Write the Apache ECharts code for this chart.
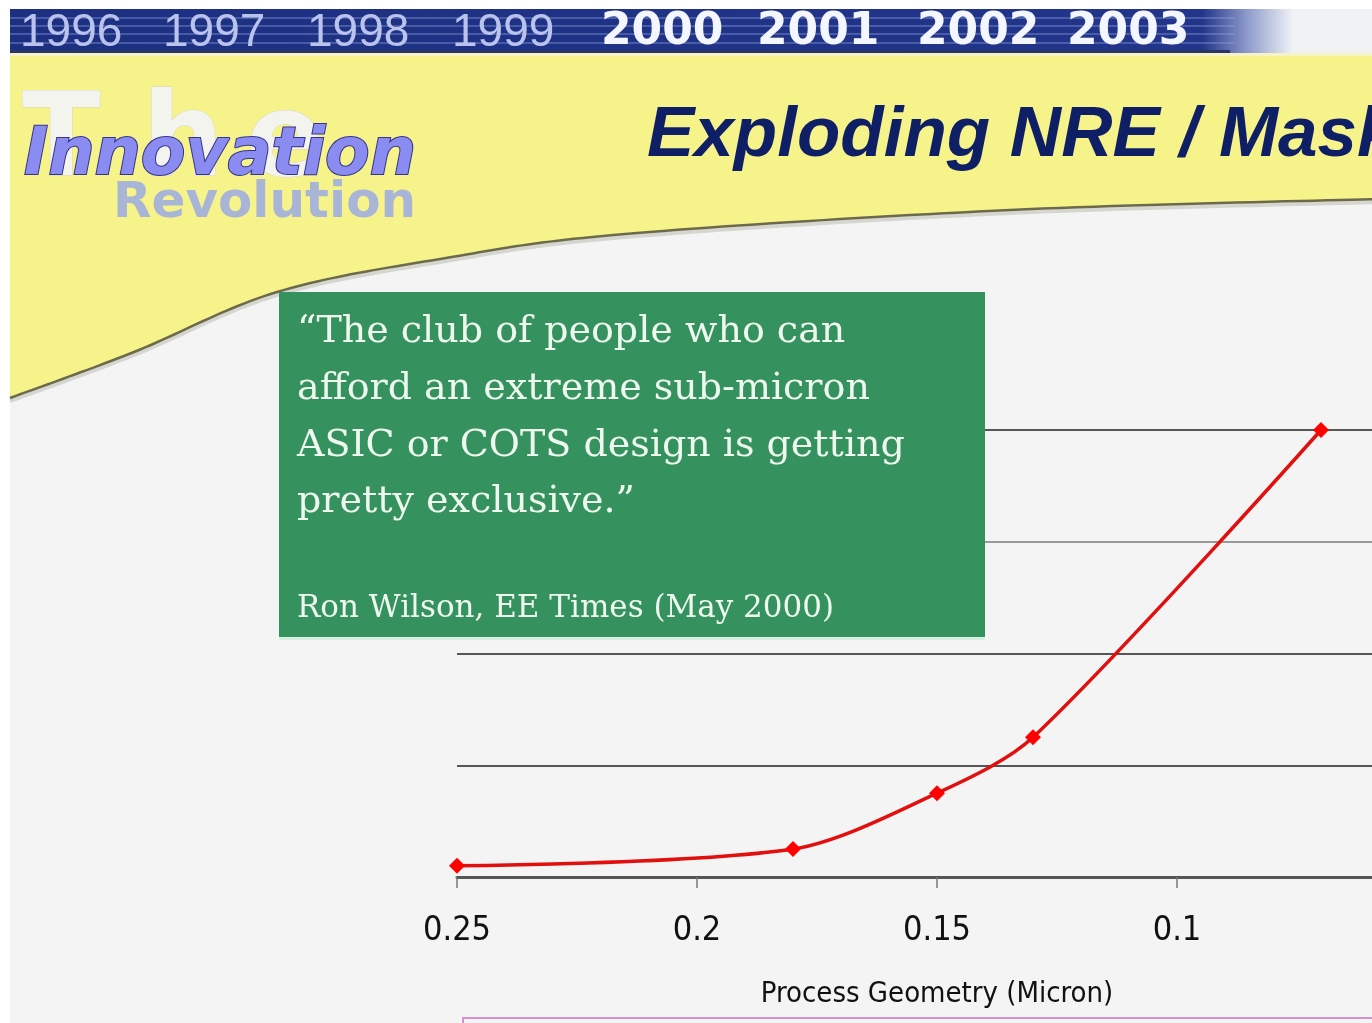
<!DOCTYPE html>
<html>
<head>
<meta charset="utf-8">
<title>Exploding NRE / Mask Costs</title>
<script src="https://cdn.jsdelivr.net/npm/echarts@6/dist/echarts.min.js"></script>
<style>
  html, body { margin: 0; padding: 0; background: #ffffff; }
  #chart { width: 1372px; height: 1023px; }
</style>
</head>
<body>
<div id="chart"></div>
<script>
// Process geometry (micron) and the mask / NRE cost at each node ($M)
const geometry = [0.25, 0.18, 0.15, 0.13, 0.07];
const maskCost = [0.1, 0.25, 0.75, 1.25, 4.0];

// Year strip across the top of the slide
const pastYears = ['1996', '1997', '1998', '1999'];
const currentYears = ['2000', '2001', '2002', '2003'];

const titleText = 'Exploding NRE / Mask Costs';
const quoteLines = [
  '\u201CThe club of people who can',
  'afford an extreme sub-micron',
  'ASIC or COTS design is getting',
  'pretty exclusive.\u201D'
];
const quoteSource = 'Ron Wilson, EE Times (May 2000)';
const xAxisTitle = 'Process Geometry (Micron)';

// ---- slide decoration helpers ----
function catmullRom(pts, steps) {
  const out = [];
  for (let i = 0; i < pts.length - 1; i++) {
    const p0 = pts[Math.max(i - 1, 0)], p1 = pts[i], p2 = pts[i + 1], p3 = pts[Math.min(i + 2, pts.length - 1)];
    for (let s = 0; s < steps; s++) {
      const t = s / steps, t2 = t * t, t3 = t2 * t;
      const f = (a, b, c, d) => 0.5 * ((2 * b) + (-a + c) * t + (2 * a - 5 * b + 4 * c - d) * t2 + (-a + 3 * b - 3 * c + d) * t3);
      out.push([f(p0[0], p1[0], p2[0], p3[0]), f(p0[1], p1[1], p2[1], p3[1])]);
    }
  }
  out.push(pts[pts.length - 1]);
  return out;
}

// sweep of the yellow header band
const sweep = catmullRom([[10, 398], [134, 352], [277, 292], [446, 258], [625, 234], [1010, 210], [1380, 199]], 24);
const yellowPoly = [[10, 56], [1380, 56]].concat(sweep.slice().reverse());
const sweepShadow = sweep.map(p => [p[0], p[1] + 3]);

const graphics = [];
// slide body
graphics.push({ type: 'rect', z: -30, shape: { x: 10, y: 9, width: 1362, height: 1014 }, style: { fill: '#f4f4f4' } });
// year banner
graphics.push({ type: 'rect', z: -20, shape: { x: 1290, y: 9, width: 82, height: 44 }, style: { fill: '#f1f2f4' } });
graphics.push({
  type: 'rect', z: -20, shape: { x: 10, y: 9, width: 1282, height: 44 },
  style: {
    fill: new echarts.graphic.LinearGradient(0, 0, 1, 0, [
      { offset: 0, color: '#1d2f80' },
      { offset: 0.93, color: '#22358a' },
      { offset: 0.965, color: '#8e9acb' },
      { offset: 1, color: '#eef0f6' }
    ])
  }
});
[17, 25, 33, 42].forEach(y => {
  graphics.push({ type: 'rect', z: -19, shape: { x: 10, y: y, width: 1225, height: 2 }, style: { fill: 'rgba(140,160,220,0.38)' } });
});
graphics.push({ type: 'rect', z: -19, shape: { x: 10, y: 50, width: 1220, height: 3 }, style: { fill: '#2a3566' } });
// yellow header band
graphics.push({ type: 'rect', z: -18, shape: { x: 10, y: 53, width: 1362, height: 6 }, style: { fill: '#f6f4c6' } });
graphics.push({ type: 'polygon', z: -17, shape: { points: yellowPoly }, style: { fill: '#f7f38b' } });
graphics.push({ type: 'polyline', z: -16, shape: { points: sweepShadow }, style: { stroke: '#d6d6d0', lineWidth: 4, fill: null } });
graphics.push({ type: 'polyline', z: -15, shape: { points: sweep }, style: { stroke: '#6c6a4a', lineWidth: 2.5, fill: null } });

// year labels
const pastX = [20, 163, 307, 452];
pastYears.forEach((t, i) => {
  graphics.push({ type: 'text', z: -10, x: pastX[i], y: 33, style: { text: t, font: '46px "Liberation Sans", Arial, sans-serif', fill: '#b9c3ee', verticalAlign: 'middle' } });
});
const currentX = [601, 757, 917, 1067];
currentYears.forEach((t, i) => {
  graphics.push({ type: 'text', z: -10, x: currentX[i], y: 33, style: { text: t, font: 'bold 44px "DejaVu Sans", sans-serif', fill: '#f4f6ff', verticalAlign: 'middle' } });
});

// logo: widely spaced "The" behind the word marks
const logoThe = [['T', 22], ['h', 142], ['e', 246]];
logoThe.forEach(([ch, x]) => {
  graphics.push({ type: 'text', z: -9, x: x, y: 145, style: { text: ch, font: 'bold 115px "DejaVu Sans", sans-serif', fill: '#f4f4ee', stroke: '#d8d7c4', lineWidth: 1, verticalAlign: 'middle' } });
});
graphics.push({ type: 'text', z: -8, x: 113, y: 204, style: { text: 'Revolution', font: 'bold 50px "DejaVu Sans", sans-serif', fill: '#a9b5d6', verticalAlign: 'middle' } });
graphics.push({ type: 'text', z: -7, x: 24, y: 157, style: { text: 'Innovation', font: 'italic bold 65px "DejaVu Sans", sans-serif', fill: '#8a8cf2', stroke: '#34348a', lineWidth: 2, verticalAlign: 'middle' } });

// slide title
graphics.push({ type: 'text', z: -6, x: 647, y: 136, style: { text: titleText, font: 'italic bold 71px "Liberation Sans", Arial, sans-serif', fill: '#0e1f66', verticalAlign: 'middle' } });

// quote box
graphics.push({ type: 'rect', z: 50, shape: { x: 279, y: 637, width: 706, height: 3 }, style: { fill: '#d6efe0' } });
graphics.push({ type: 'rect', z: 50, shape: { x: 279, y: 292, width: 706, height: 345 }, style: { fill: '#35925f' } });
const quoteY = [332, 389, 446, 502];
quoteLines.forEach((t, i) => {
  graphics.push({ type: 'text', z: 51, x: 297, y: quoteY[i], style: { text: t, font: '38px "DejaVu Serif", "Liberation Serif", serif', fill: '#eef8ee', verticalAlign: 'middle' } });
});
graphics.push({ type: 'text', z: 51, x: 297, y: 609, style: { text: quoteSource, font: '31px "DejaVu Serif", "Liberation Serif", serif', fill: '#eef8ee', verticalAlign: 'middle' } });

// outline of the panel below the chart
graphics.push({ type: 'polyline', z: 5, shape: { points: [[463, 1023], [463, 1018], [1372, 1018]] }, style: { stroke: '#d590d5', lineWidth: 2, fill: null } });

const axisFont = '"Liberation Sans Narrow", "DejaVu Sans Condensed", "Liberation Sans", sans-serif';

const chart = echarts.init(document.getElementById('chart'), null, { renderer: 'canvas' });
chart.setOption({
  animation: false,
  backgroundColor: '#ffffff',
  graphic: { elements: graphics },
  grid: { left: 457, right: -45, top: 430, bottom: 146, outerBoundsMode: 'none', containLabel: false },
  xAxis: {
    type: 'value',
    inverse: true,
    min: 0.05,
    max: 0.25,
    interval: 0.05,
    name: xAxisTitle,
    nameLocation: 'middle',
    nameGap: 103,
    nameTextStyle: { fontFamily: axisFont, fontSize: 29, color: '#111111' },
    axisLine: { show: true, lineStyle: { color: '#555555', width: 3 } },
    axisTick: { show: true, length: 11, lineStyle: { color: '#777777', width: 1.5 } },
    axisLabel: {
      margin: 37,
      fontFamily: axisFont,
      fontSize: 34,
      color: '#111111',
      formatter: v => String(+v.toFixed(2))
    },
    splitLine: { show: false }
  },
  yAxis: {
    type: 'value',
    min: 0,
    max: 4,
    interval: 1,
    axisLine: { show: false },
    axisTick: { show: false },
    axisLabel: { show: false },
    splitLine: { show: true, lineStyle: { color: ['#555555', '#555555', '#555555', '#9a9a9a', '#555555'], width: 2 } }
  },
  series: [{
    type: 'line',
    data: geometry.map((g, i) => [g, maskCost[i]]),
    smooth: 0.3,
    symbol: 'diamond',
    symbolSize: 16,
    lineStyle: { color: '#e20f0f', width: 3.5 },
    itemStyle: { color: '#ff0000' },
    z: 3
  }]
});
</script>
</body>
</html>
